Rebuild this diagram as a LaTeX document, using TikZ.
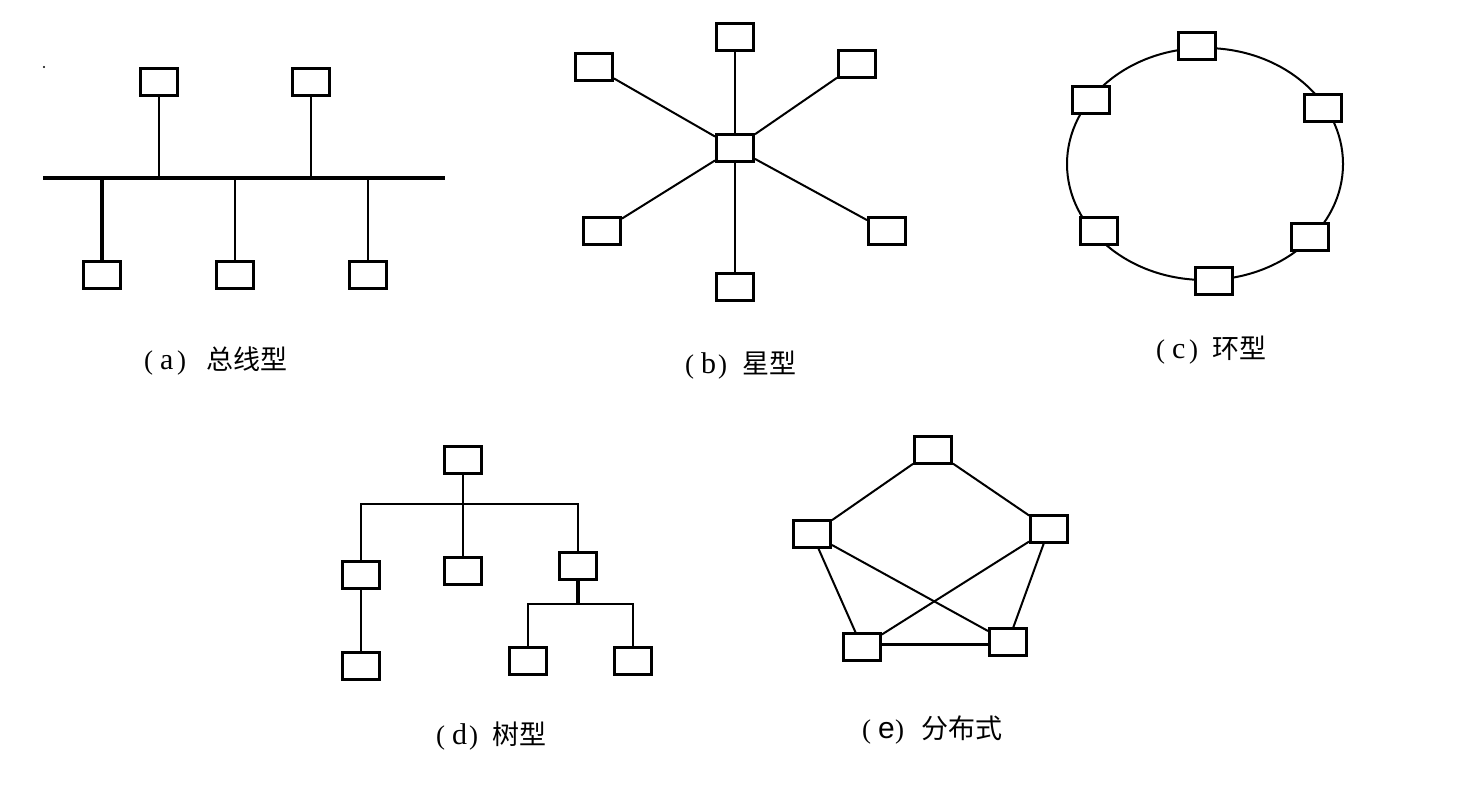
\documentclass[tikz,border=0pt]{standalone}
\usepackage{fontspec}
\setmainfont{Liberation Serif}
\newfontfamily\cjk{Noto Sans CJK SC}
\newfontfamily\lsans{Liberation Sans}
\newlength\tlabw
\newcommand\tlab[3]{\setlength\tlabw{#1}\addtolength\tlabw{-33pt}%
  \makebox[16pt][l]{\fontsize{27}{30}\selectfont(}%
  \makebox[17pt][l]{\fontsize{30}{30}\selectfont #2}%
  \makebox[\tlabw][l]{\fontsize{27}{30}\selectfont)}%
  {\cjk\fontsize{27}{30}\selectfont #3}}
\begin{document}
\begin{tikzpicture}[x=1pt,y=-1pt,
  pc/.style={draw=black,fill=white,line width=2.9pt,minimum width=37pt,minimum height=26.5pt,inner sep=0pt},
  lnthin/.style={line width=2pt},
  lnthick/.style={line width=3.4pt},
  lbl/.style={inner sep=0pt,anchor=west}]
\useasboundingbox[fill=white] (0,0) rectangle (1461,789);
\fill (44,67) circle (1.1);
% (a) bus
\coordinate (busL) at (43,178);
\coordinate (busR) at (445,178);
\node[pc] (a1) at (159,82) {};
\node[pc] (a2) at (311,82) {};
\node[pc] (a3) at (102,275) {};
\node[pc] (a4) at (235,275) {};
\node[pc] (a5) at (368,275) {};
\draw[lnthick] (busL) -- (busR);
\draw[lnthin] (a1) -- (a1 |- busL);
\draw[lnthin] (a2) -- (a2 |- busL);
\draw[lnthick] (a3) -- (a3 |- busL);
\draw[lnthin] (a4) -- (a4 |- busL);
\draw[lnthin] (a5) -- (a5 |- busL);
\node[lbl] (la) at (144,361) {\tlab{62pt}{a}{总线型}};
% (b) star
\node[pc] (bc) at (735,148) {};
\node[pc] (b1) at (735,37) {};
\node[pc] (b2) at (594,67) {};
\node[pc] (b3) at (857,64) {};
\node[pc] (b4) at (602,231) {};
\node[pc] (b5) at (887,231) {};
\node[pc] (b6) at (735,287) {};
\foreach \n in {b1,b2,b3,b4,b5,b6} \draw[lnthin] (bc) -- (\n);
\node[lbl] (lb) at (685,365) {\tlab{57pt}{b}{星型}};
% (c) ring
\coordinate (rc) at (1205,164);
\draw[lnthin] (rc) ellipse [x radius=138, y radius=116];
\node[pc] (c1) at (1197,46) {};
\node[pc] (c2) at (1091,100) {};
\node[pc] (c3) at (1323,108) {};
\node[pc] (c4) at (1099,231) {};
\node[pc] (c5) at (1310,237) {};
\node[pc] (c6) at (1214,281) {};
\node[lbl] (lc) at (1156,350) {\tlab{56pt}{c}{环型}};
% (d) tree
\coordinate (barL) at (361,504);
\coordinate (bar2) at (527,604);
\node[pc] (d0) at (463,460) {};
\node[pc] (d1) at (361,575) {};
\node[pc] (d2) at (463,571) {};
\node[pc] (d3) at (578,566) {};
\node[pc] (d4) at (361,666) {};
\node[pc] (d5) at (528,661) {};
\node[pc] (d6) at (633,661) {};
\draw[lnthin] (d0) -- (d0 |- barL);
\draw[lnthin] (d1) -- (d1 |- barL) -- (d3 |- barL) -- (d3);
\draw[lnthin] (d2) -- (d2 |- barL);
\draw[lnthin] (d1) -- (d4);
\draw[lnthick] (d3) -- (d3 |- bar2);
\draw[lnthin] (d5) -- (d5 |- bar2) -- (d6 |- bar2) -- (d6);
\node[lbl] (ld) at (436,736) {\tlab{56pt}{d}{树型}};
% (e) distributed
\node[pc] (e1) at (933,450) {};
\node[pc] (e2) at (812,534) {};
\node[pc] (e3) at (1049,529) {};
\node[pc] (e4) at (862,647) {};
\node[pc] (e5) at (1008,642) {};
\draw[lnthin] (e1) -- (e2);
\draw[lnthin] (e1) -- (e3);
\draw[lnthin] (e2) -- (e4);
\draw[lnthin] (e2) -- (e5);
\draw[lnthin] (e3) -- (e4);
\draw[lnthin] (e3) -- (e5);
\draw[lnthick] ([yshift=2.5pt]e4.east) -- ([yshift=-2.5pt]e5.west);
\node[lbl] (le) at (862,730) {\tlab{59pt}{{\lsans e}}{分布式}};
\end{tikzpicture}
\end{document}
